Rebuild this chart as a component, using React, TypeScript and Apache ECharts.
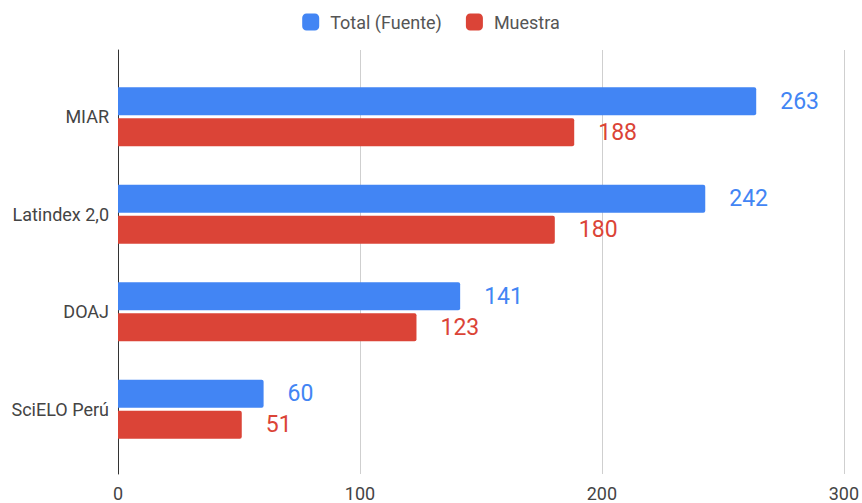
import React, { useEffect, useRef } from "react";
import * as echarts from "echarts";

const categories = ["MIAR", "Latindex 2,0", "DOAJ", "SciELO Perú"];
const totalValues = [263, 242, 141, 60];
const sampleValues = [188, 180, 123, 51];
const seriesNames = ["Total (Fuente)", "Muestra"];
const xTicks = [0, 100, 200, 300];

const BLUE = "#4285F4";
const RED = "#DB4437";
const FONT = "Roboto";

export default function App() {
  const ref = useRef<HTMLDivElement>(null);
  useEffect(() => {
    if (!ref.current) return;
    const chart = echarts.init(ref.current, null, { renderer: "svg" });
    const xMin = xTicks[0];
    const xMax = xTicks[xTicks.length - 1];
    const interval = xTicks[1] - xTicks[0];
    chart.setOption({
      animation: false,
      backgroundColor: "#fff",
      textStyle: { fontFamily: FONT },
      legend: {
        data: seriesNames,
        top: 8,
        left: "center",
        icon: "roundRect",
        itemWidth: 17,
        itemHeight: 17,
        itemGap: 24,
        textStyle: { fontSize: 18, color: "#555", fontFamily: FONT, padding: [0, 0, 0, 6] },
      },
      grid: [
        { left: 118, right: 16, top: 50, bottom: 29 },
        { left: 118, right: 16, top: 68, bottom: 45 },
      ],
      xAxis: [
        {
          gridIndex: 0,
          type: "value",
          min: xMin,
          max: xMax,
          interval,
          axisLine: { show: false },
          axisTick: { show: false },
          axisLabel: { fontSize: 18, color: "#444", margin: 10, fontFamily: FONT },
          splitLine: { show: true, lineStyle: { color: "#cfcfcf", width: 1 } },
        },
        {
          gridIndex: 1,
          type: "value",
          min: xMin,
          max: xMax,
          interval,
          show: false,
        },
      ],
      yAxis: [
        {
          gridIndex: 0,
          type: "value",
          axisLine: { show: true, lineStyle: { color: "#333", width: 1 } },
          axisTick: { show: false },
          axisLabel: { show: false },
          splitLine: { show: false },
        },
        {
          gridIndex: 1,
          type: "category",
          data: categories,
          inverse: true,
          axisLine: { show: false },
          axisTick: { show: false },
          axisLabel: { fontSize: 18, color: "#444", margin: 9, fontFamily: FONT },
          splitLine: { show: false },
        },
      ],
      series: [
        {
          name: seriesNames[0],
          type: "bar",
          xAxisIndex: 1,
          yAxisIndex: 1,
          data: totalValues,
          barWidth: 28,
          barGap: "11%",
          itemStyle: { color: BLUE, borderRadius: [0, 2, 2, 0] },
          label: {
            show: true,
            position: "right",
            distance: 24,
            fontSize: 23,
            color: BLUE,
            fontFamily: FONT,
          },
        },
        {
          name: seriesNames[1],
          type: "bar",
          xAxisIndex: 1,
          yAxisIndex: 1,
          data: sampleValues,
          barWidth: 28,
          barGap: "11%",
          itemStyle: { color: RED, borderRadius: [0, 2, 2, 0] },
          label: {
            show: true,
            position: "right",
            distance: 24,
            fontSize: 23,
            color: RED,
            fontFamily: FONT,
          },
        },
      ],
    });
    return () => chart.dispose();
  }, []);
  return (
    <div
      ref={ref}
      style={{ position: "fixed", left: 0, top: 0, width: 862, height: 503 }}
    />
  );
}
